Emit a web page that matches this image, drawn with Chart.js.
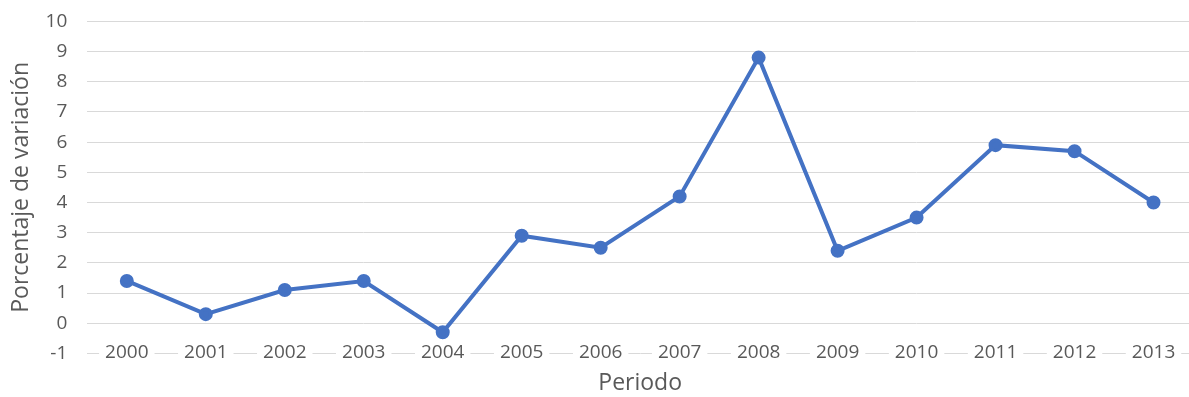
<!DOCTYPE html>
<html>
<head>
<meta charset="utf-8">
<script src="https://cdn.jsdelivr.net/npm/chart.js@4"></script>
<style>
  html, body { margin: 0; padding: 0; background: #fff; overflow: hidden; }
  #wrap { width: 1189px; height: 397px; overflow: hidden; }
  #line-chart { display: block; margin-top: -10px; }
</style>
</head>
<body>
<div id="wrap"><canvas id="line-chart" width="1202" height="407"></canvas></div>
<script>
    // periods and values
    var periodos = ['2000', '2001', '2002', '2003', '2004', '2005', '2006',
                    '2007', '2008', '2009', '2010', '2011', '2012', '2013'];
    var variacion = [1.4, 0.3, 1.1, 1.4, -0.3, 2.9, 2.5, 4.2, 8.8, 2.4, 3.5, 5.9, 5.7, 4.0];
    var yMin = -1, yMax = 10;

    var gris = '#595959';
    var azul = '#4472C4';
    var rejilla = '#d9d9d9';
    var fuente = 'Open Sans';

    var ctx = document.getElementById('line-chart').getContext('2d');

    var config = {
        type: 'line',
        data: {
            labels: periodos,
            datasets: [{
                label: 'Porcentaje de variación',
                data: variacion,
                borderColor: azul,
                backgroundColor: azul,
                borderWidth: 4,
                pointRadius: 5,
                pointHoverRadius: 5,
                pointBackgroundColor: azul,
                pointBorderColor: azul,
                tension: 0
            }]
        },
        options: {
            responsive: false,
            animation: false,
            layout: {
                padding: { left: 8, right: 0, top: 0, bottom: 0 }
            },
            plugins: {
                legend: { display: false },
                tooltip: { enabled: false }
            },
            scales: {
                x: {
                    offset: true,
                    grid: { display: false, drawTicks: false },
                    // the -1 line is the axis line, labels sit on it
                    border: { display: true, color: rejilla, width: 1 },
                    ticks: {
                        color: gris,
                        font: { family: fuente, size: 19 },
                        mirror: true,
                        padding: -11,
                        showLabelBackdrop: true,
                        backdropColor: '#ffffff',
                        backdropPadding: { left: 6, right: 6, top: 0, bottom: 0 },
                        maxRotation: 0,
                        autoSkip: false
                    },
                    title: {
                        display: true,
                        text: 'Periodo',
                        color: gris,
                        font: { family: fuente, size: 23 },
                        padding: { top: 38, bottom: 0 }
                    }
                },
                y: {
                    min: yMin,
                    max: yMax,
                    grid: {
                        color: function (c) { return c.tick && c.tick.value === yMin ? 'rgba(0,0,0,0)' : rejilla; },
                        lineWidth: 1,
                        drawTicks: false
                    },
                    border: { display: false },
                    ticks: {
                        stepSize: 1,
                        color: gris,
                        font: { family: fuente, size: 19 },
                        padding: 20
                    },
                    title: {
                        display: true,
                        text: 'Porcentaje de variación',
                        color: gris,
                        font: { family: fuente, size: 23 },
                        padding: { top: 0, bottom: -10 }
                    }
                }
            }
        }
    };
    new Chart(ctx, config);
</script>
</body>
</html>
